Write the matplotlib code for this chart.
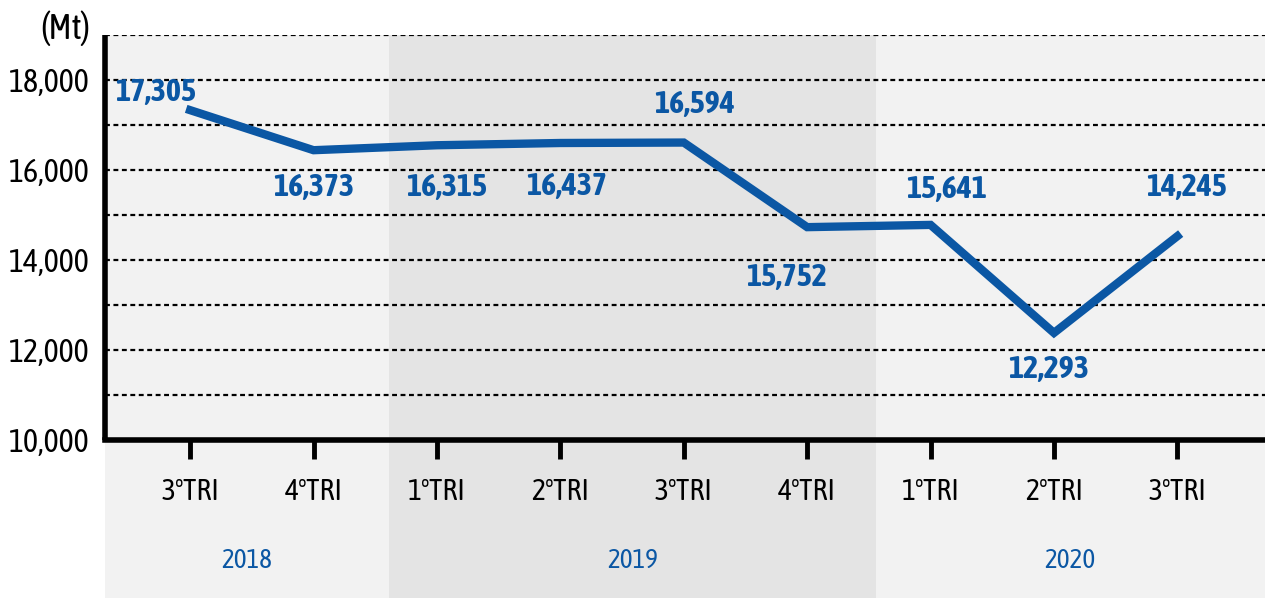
import matplotlib.pyplot as plt
from matplotlib.patches import Rectangle
from matplotlib.transforms import blended_transform_factory

# Datos
trimestres = ['3ºTRI', '4ºTRI', '1ºTRI', '2ºTRI', '3ºTRI', '4ºTRI', '1ºTRI', '2ºTRI', '3ºTRI']
valores_linea = [17330, 16440, 16550, 16600, 16610, 14730, 14780, 12380, 14530]
etiquetas = ['17,305', '16,373', '16,315', '16,437', '16,594', '15,752', '15,641', '12,293', '14,245']
anios = ['2018', '2019', '2020']
limites_anios = [-0.69, 1.61, 5.555, 8.71]

# Desplazamiento de cada etiqueta (pixeles)
desplaz = [(-35, 18), (0, -37), (10, -42), (6, -44), (11, 38),
           (-21, -50), (16, 35), (-5, -37), (9, 49)]

azul = '#0b57a4'
plt.rcParams['font.family'] = ['Asap Condensed', 'DejaVu Sans']

fig = plt.figure(figsize=(12.65, 5.98), dpi=100)
ax = fig.add_axes([105 / 1265, 1 - 440 / 598, 1160 / 1265, 405 / 598])
ax.set_facecolor('none')

# Bandas por año (se extienden hasta el borde inferior de la figura)
trans = blended_transform_factory(ax.transData, fig.transFigure)
colores_banda = ['#f2f2f2', '#e4e4e4', '#f2f2f2']
for i in range(3):
    x0, x1 = limites_anios[i], limites_anios[i + 1]
    ax.add_patch(Rectangle((x0, 0), x1 - x0, 1 - 35 / 598, transform=trans,
                           facecolor=colores_banda[i], edgecolor='none', zorder=0, clip_on=False))
    ax.text((x0 + x1) / 2, 1 - 560 / 598, anios[i], transform=trans, color=azul,
            fontsize=19.5, ha='center', va='center')

x = list(range(len(trimestres)))
ax.plot(x, valores_linea, color=azul, linewidth=6, solid_joinstyle='miter', zorder=3)

for i, txt in enumerate(etiquetas):
    ax.annotate(txt, (x[i], valores_linea[i]), xytext=desplaz[i], textcoords='offset pixels',
                ha='center', va='center', color=azul, fontsize=23, fontweight='bold', zorder=4)

ax.set_xlim(-0.69, 8.71)
ax.set_ylim(10000, 19000)
ax.set_yticks(range(10000, 19001, 2000))
ax.set_yticklabels([f'{v:,}' for v in range(10000, 19001, 2000)], fontsize=23)
ax.set_yticks(range(11000, 19001, 1000), minor=True)
ax.yaxis.grid(True, which='both', color='black', linestyle=(0, (2.2, 1.6)), linewidth=1.6)
ax.set_axisbelow(True)
ax.tick_params(axis='y', which='both', length=0, pad=11)

ax.set_xticks(x)
ax.set_xticklabels(trimestres, fontsize=21.5)
ax.tick_params(axis='x', length=14, width=3.5, direction='out', pad=13)

for s in ['top', 'right']:
    ax.spines[s].set_visible(False)
ax.spines['left'].set_linewidth(4)
ax.spines['left'].set_capstyle('butt')
ax.spines['bottom'].set_linewidth(4)
ax.spines['bottom'].set_capstyle('projecting')

fig.text(65 / 1265, 1 - 28 / 598, '(Mt)', fontsize=25, ha='center', va='center')

fig.savefig('out.png', dpi=100)
